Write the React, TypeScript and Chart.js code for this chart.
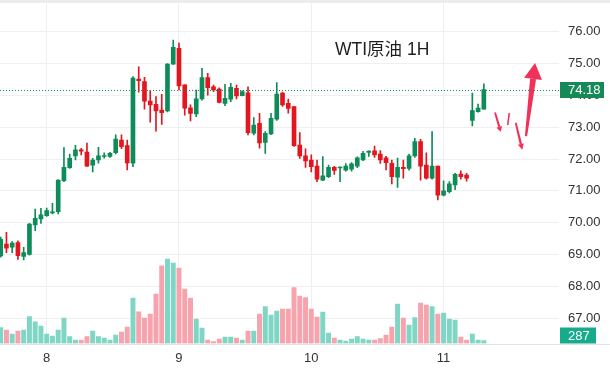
import React, { useEffect, useRef } from 'react';
import { Chart, registerables } from 'chart.js';

Chart.register(...registerables);

// ---- data (hourly candles, index 0 = left-most visible candle) ----
const OPEN = [
  68.96, 69.33, 69.23, 69.38, 68.94, 69.01, 69.93, 70.12, 70.22, 70.31,
  70.35, 71.32, 71.73, 72.10, 72.29, 72.22, 71.81, 71.97, 72.08, 72.08,
  72.20, 72.60, 72.42, 71.87, 74.51, 74.43, 73.82, 73.72, 73.54, 73.51,
  74.98, 75.48, 74.33, 73.61, 73.42, 73.89, 74.56, 74.27, 74.20, 73.75,
  73.88, 74.22, 73.99, 74.08, 72.81, 73.12, 72.52, 72.79, 73.25, 74.07,
  73.75, 73.65, 72.44, 72.10, 71.97, 71.78, 71.34, 71.45, 71.74, 71.72,
  71.65, 71.68, 71.78, 71.97, 72.21, 72.26, 72.16, 72.04, 71.87, 71.43,
  71.74, 71.71, 72.10, 72.55, 71.81, 71.40, 71.78, 70.87, 70.98, 71.19,
  71.53, 71.50, 73.21, 73.49, 73.57,
];
const HIGH = [
  69.55, 69.70, 69.41, 69.43, 69.23, 69.98, 70.43, 70.45, 70.46, 70.61,
  71.35, 72.36, 72.16, 72.43, 72.34, 72.50, 72.02, 72.37, 72.20, 72.21,
  72.76, 72.76, 72.60, 74.59, 74.90, 74.57, 74.15, 73.96, 74.03, 75.00,
  75.74, 75.64, 74.33, 73.70, 74.17, 74.85, 74.69, 74.32, 74.24, 74.35,
  74.38, 74.32, 74.14, 74.27, 73.30, 73.44, 72.86, 73.44, 74.40, 74.10,
  73.88, 73.65, 72.83, 72.32, 72.13, 71.97, 72.08, 71.81, 71.77, 71.76,
  71.86, 71.89, 72.07, 72.24, 72.26, 72.41, 72.27, 72.09, 71.97, 72.03,
  71.97, 72.16, 72.65, 72.62, 72.20, 72.86, 71.78, 71.32, 71.29, 71.55,
  71.63, 71.55, 74.07, 73.73, 74.36,
];
const LOW = [
  68.92, 69.06, 69.06, 68.85, 68.83, 68.98, 69.75, 69.98, 70.20, 70.28,
  70.28, 71.29, 71.71, 71.97, 72.13, 71.77, 71.60, 71.87, 72.03, 72.05,
  72.16, 72.33, 71.66, 71.76, 74.10, 73.57, 73.16, 72.88, 73.09, 73.48,
  74.97, 74.17, 73.38, 73.20, 73.33, 73.85, 74.01, 74.12, 73.76, 73.68,
  73.80, 73.89, 73.98, 72.76, 72.76, 72.34, 72.18, 72.77, 73.21, 73.65,
  73.44, 72.40, 72.02, 71.74, 71.60, 71.29, 71.32, 71.42, 71.52, 71.29,
  71.62, 71.62, 71.73, 71.95, 72.08, 72.05, 71.86, 71.66, 71.22, 71.11,
  71.40, 71.65, 72.05, 71.34, 71.37, 71.37, 70.72, 70.84, 70.94, 71.04,
  71.37, 71.31, 73.04, 73.47, 73.57,
];
const CLOSE = [
  69.48, 69.20, 69.36, 68.97, 69.06, 69.96, 70.14, 70.25, 70.38, 70.33,
  71.34, 71.74, 72.02, 72.29, 72.25, 71.78, 71.97, 72.10, 72.10, 72.18,
  72.63, 72.39, 71.88, 74.54, 74.46, 73.82, 73.70, 73.51, 73.46, 74.98,
  75.51, 74.30, 73.60, 73.43, 73.89, 74.56, 74.24, 74.17, 73.78, 73.91,
  74.25, 73.98, 74.12, 72.83, 73.07, 72.51, 72.81, 73.28, 74.04, 73.70,
  73.59, 72.42, 72.10, 71.94, 71.76, 71.37, 71.47, 71.74, 71.64, 71.74,
  71.78, 71.85, 72.04, 72.18, 72.25, 72.13, 71.97, 71.89, 71.45, 71.74,
  71.70, 72.10, 72.55, 71.78, 71.40, 71.78, 70.87, 71.00, 71.22, 71.52,
  71.45, 71.40, 73.52, 73.60, 74.18,
];
const VOLUME = [
  1600, 1330, 930, 1230, 1330, 2700, 2170, 1730, 930, 730,
  1330, 2530, 700, 330, 330, 700, 1230, 700, 530, 330,
  830, 1130, 1630, 4530, 3170, 2530, 2930, 4930, 7770, 8430,
  8030, 7530, 5430, 4530, 2430, 1530, 330, 200, 430, 630,
  630, 530, 330, 1230, 1230, 2930, 3700, 2830, 3230, 3430,
  3430, 5600, 4730, 4600, 3430, 2630, 3130, 1030, 530, 330,
  230, 430, 700, 430, 330, 330, 500, 830, 1630, 3930,
  2530, 1830, 2600, 4030, 3830, 3700, 2930, 3030, 2430, 2330,
  630, 330, 930, 330, 287,
];
const DAY_TICK_INDEX = [8, 31, 54, 77];
const DAY_TICK_LABELS = ['8', '9', '10', '11'];
const PRICE_TICKS = [67, 68, 69, 70, 71, 72, 73, 74, 75, 76];
const LAST_PRICE = 74.18;
const LAST_VOLUME = 287;
const TITLE = 'WTI原油 1H';
// hand-drawn forecast arrows, in (candle index, price) coordinates
const ARROW_FROM_X = [85.94, 88.42, 89.54, 91.33];
const ARROW_FROM_Y = [73.46, 73.44, 73.14, 72.72];
const ARROW_TO_X = [86.93, 88.15, 90.68, 92.9];
const ARROW_TO_Y = [72.86, 73.07, 72.29, 75.02];

const UP = '#0d8c5a';
const DOWN = '#e3151f';
const VOL_UP = '#80d6c5';
const VOL_DOWN = '#f6a3ad';
const ARROW = '#f03159';
const FONT = '"Liberation Sans", Arial, "Noto Sans CJK SC", sans-serif';

const isUp = (i: number) => CLOSE[i] >= OPEN[i];

export default function App() {
  const ref = useRef<HTMLCanvasElement | null>(null);

  useEffect(() => {
    if (!ref.current) return;
    const idx = OPEN.map((_, i) => i);

    const overlay = {
      id: 'overlay',
      afterDatasetsDraw(chart: any) {
        const { ctx, chartArea, scales } = chart;
        const xs = scales.x;
        const ys = scales.y;
        const vs = scales.v;
        const W = chart.width;
        ctx.save();
        // top separator
        ctx.fillStyle = '#ececec';
        ctx.fillRect(0, 0, W, 3);
        // bottom axis line across full width
        ctx.fillStyle = '#e2e2e2';
        ctx.fillRect(0, Math.round(chartArea.bottom), W, 1);

        // last price dotted line
        const py = ys.getPixelForValue(LAST_PRICE);
        ctx.strokeStyle = UP;
        ctx.lineWidth = 1;
        ctx.setLineDash([1, 2]);
        ctx.beginPath();
        ctx.moveTo(chartArea.left, Math.round(py) + 0.5);
        ctx.lineTo(chartArea.right, Math.round(py) + 0.5);
        ctx.stroke();
        ctx.setLineDash([]);

        // price label
        ctx.fillStyle = '#158a58';
        ctx.fillRect(chartArea.right + 1, Math.round(py) - 8, 44, 16);
        ctx.fillStyle = '#ffffff';
        ctx.font = '13px ' + FONT;
        ctx.textBaseline = 'middle';
        ctx.textAlign = 'left';
        ctx.fillText(LAST_PRICE.toFixed(2), chartArea.right + 9, Math.round(py) + 0.5);

        // volume label
        const vy = Math.min(vs.getPixelForValue(LAST_VOLUME) - 8, chartArea.bottom - 16);
        ctx.fillStyle = '#16ab8a';
        ctx.fillRect(chartArea.right + 1, vy, 36, 16);
        ctx.fillStyle = '#ffffff';
        ctx.fillText(String(LAST_VOLUME), chartArea.right + 9, vy + 8.5);

        // title
        ctx.fillStyle = '#1e1e1e';
        ctx.font = '17.5px ' + FONT;
        ctx.fillText(TITLE, chartArea.left + 335, 50);

        // arrows
        const heads = [5, 0, 6, 16];
        const headW = [6, 0, 6, 18];
        const w0 = [1.8, 1.6, 1.8, 2.2];
        const w1 = [2.2, 1.6, 2.4, 6];
        ctx.fillStyle = ARROW;
        for (let k = 0; k < ARROW_FROM_X.length; k++) {
          const x1 = xs.getPixelForValue(ARROW_FROM_X[k]);
          const y1 = ys.getPixelForValue(ARROW_FROM_Y[k]);
          const x2 = xs.getPixelForValue(ARROW_TO_X[k]);
          const y2 = ys.getPixelForValue(ARROW_TO_Y[k]);
          const ang = Math.atan2(y2 - y1, x2 - x1);
          const c = Math.cos(ang), s = Math.sin(ang);
          const bx = x2 - heads[k] * c, by = y2 - heads[k] * s;
          const nx = -s, ny = c;
          ctx.beginPath();
          ctx.moveTo(x1 + nx * w0[k] / 2, y1 + ny * w0[k] / 2);
          ctx.lineTo(bx + nx * w1[k] / 2, by + ny * w1[k] / 2);
          ctx.lineTo(bx - nx * w1[k] / 2, by - ny * w1[k] / 2);
          ctx.lineTo(x1 - nx * w0[k] / 2, y1 - ny * w0[k] / 2);
          ctx.closePath();
          ctx.fill();
          if (heads[k] > 0) {
            ctx.beginPath();
            ctx.moveTo(x2, y2);
            ctx.lineTo(bx + nx * headW[k] / 2, by + ny * headW[k] / 2);
            ctx.lineTo(bx - nx * headW[k] / 2, by - ny * headW[k] / 2);
            ctx.closePath();
            ctx.fill();
          }
        }
        ctx.restore();
      },
    };

    const chart = new Chart(ref.current, {
      type: 'bar',
      data: {
        datasets: [
          {
            label: 'body',
            data: idx.map((i) => ({ x: i, y: [OPEN[i], CLOSE[i]] })) as any,
            backgroundColor: idx.map((i) => (isUp(i) ? UP : DOWN)),
            barThickness: 4,
            minBarLength: 1,
            grouped: false,
            yAxisID: 'y',
            order: 1,
          } as any,
          {
            label: 'wick',
            data: idx.map((i) => ({ x: i, y: [LOW[i], HIGH[i]] })) as any,
            backgroundColor: idx.map((i) => (isUp(i) ? UP : DOWN)),
            barThickness: 1,
            grouped: false,
            yAxisID: 'y',
            order: 2,
          } as any,
          {
            label: 'volume',
            data: idx.map((i) => ({ x: i, y: VOLUME[i] })) as any,
            backgroundColor: idx.map((i) => (isUp(i) ? VOL_UP : VOL_DOWN)),
            barThickness: 4.3,
            grouped: false,
            yAxisID: 'v',
            order: 3,
          } as any,
        ],
      },
      options: {
        animation: false,
        responsive: false,
        devicePixelRatio: 1,
        layout: { padding: 0 },
        plugins: { legend: { display: false }, tooltip: { enabled: false } },
        scales: {
          x: {
            type: 'linear',
            min: -0.118,
            max: 97.066,
            offset: false,
            border: { display: false },
            grid: { color: '#efefef', drawTicks: false, offset: false },
            ticks: {
              padding: 7,
              color: '#333333',
              font: { size: 13, family: FONT },
              maxRotation: 0,
              callback: (v: any) => {
                const k = DAY_TICK_INDEX.indexOf(Number(v));
                return k >= 0 ? DAY_TICK_LABELS[k] : '';
              },
            },
            afterBuildTicks: (scale: any) => {
              scale.ticks = DAY_TICK_INDEX.map((v) => ({ value: v }));
            },
            afterFit: (scale: any) => {
              scale.height = 28.5;
              scale.paddingLeft = 0;
              scale.paddingRight = 0;
            },
          } as any,
          y: {
            type: 'linear',
            position: 'right',
            min: 66.209,
            max: 76.995,
            border: { display: false },
            grid: { color: '#efefef', drawTicks: false },
            ticks: {
              padding: 9,
              color: '#333333',
              font: { size: 13, family: FONT },
              callback: (v: any) => Number(v).toFixed(2),
            },
            afterBuildTicks: (scale: any) => {
              scale.ticks = PRICE_TICKS.map((v) => ({ value: v }));
            },
            afterFit: (scale: any) => {
              scale.width = 51;
              scale.paddingTop = 0;
              scale.paddingBottom = 0;
            },
          } as any,
          v: {
            type: 'linear',
            display: false,
            min: 0,
            max: 34350,
          },
        },
      },
      plugins: [overlay],
    });
    return () => chart.destroy();
  }, []);

  return (
    <div style={{ position: 'fixed', left: 0, top: 0, width: 610, height: 372, background: '#fff' }}>
      <canvas ref={ref} width={610} height={372} style={{ width: 610, height: 372, display: 'block' }} />
    </div>
  );
}
